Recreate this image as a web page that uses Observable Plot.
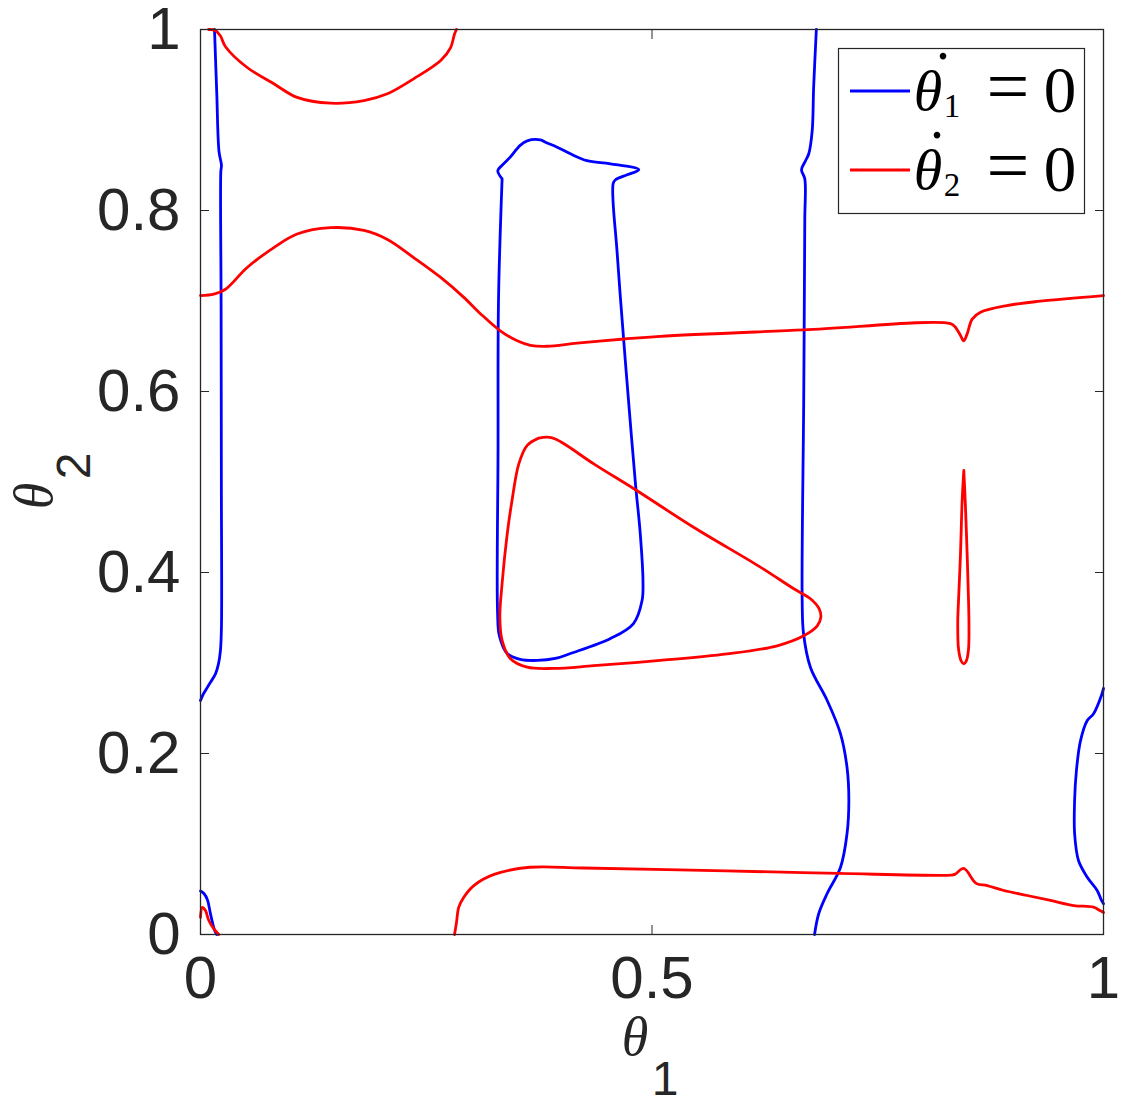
<!DOCTYPE html>
<html><head><meta charset="utf-8">
<script src="https://cdn.jsdelivr.net/npm/d3@7"></script>
<script src="https://cdn.jsdelivr.net/npm/@observablehq/plot@0.6"></script>
<style>body{margin:0;background:#fff}</style>
</head><body><div id="chart"></div>
<script>
const xTicks = [0, 0.5, 1];
const yTicks = [0, 0.2, 0.4, 0.6, 0.8, 1];
const seriesNames = ["θ̇1 = 0", "θ̇2 = 0"];
const seriesColors = ["#0000ff", "#ff0000"];

// theta1-dot = 0 (blue) curves
const blueLeft = [[0.0155,1.0],[0.018,0.93],[0.0205,0.865],[0.0232,0.850],[0.0225,0.843],[0.0228,0.70],[0.0231,0.50],[0.0232,0.34],[0.0221,0.314],[0.0199,0.299],[0.0166,0.288],[0.010,0.277],[0.0033,0.266],[0,0.2586]];
const blueCorner = [[0,0.048],[0.004,0.045],[0.0078,0.038],[0.011,0.023],[0.0155,0.005],[0.018,0]];
const blueLoop = [[0.334,0.835],[0.330,0.700],[0.3295,0.535],[0.329,0.355],[0.331,0.330],[0.3397,0.3105],[0.354,0.304],[0.373,0.3028],[0.393,0.305],[0.4097,0.3105],[0.454,0.327],[0.4795,0.3436],[0.489,0.369],[0.490,0.391],[0.487,0.443],[0.4817,0.498],[0.474,0.590],[0.4684,0.660],[0.4615,0.752],[0.457,0.830],[0.4596,0.834],[0.4725,0.8395],[0.4854,0.845],[0.454,0.8516],[0.428,0.855],[0.4097,0.8626],[0.395,0.870],[0.382,0.8755],[0.3765,0.878],[0.3618,0.877],[0.354,0.872],[0.343,0.859],[0.334,0.850],[0.3292,0.844],[0.334,0.835]];
const blueMid = [[0.682,1.0],[0.679,0.936],[0.6774,0.888],[0.6736,0.8627],[0.670,0.855],[0.6656,0.845],[0.6692,0.835],[0.6692,0.789],[0.668,0.590],[0.6663,0.369],[0.6678,0.3326],[0.6755,0.295],[0.694,0.2586],[0.7087,0.222],[0.716,0.1845],[0.718,0.148],[0.716,0.1116],[0.7087,0.074],[0.694,0.0453],[0.6847,0.0232],[0.680,0]];
const blueEdge = [[1.0,0.272],[0.998,0.265],[0.989,0.244],[0.982,0.2365],[0.9745,0.214],[0.970,0.181],[0.968,0.148],[0.968,0.1116],[0.9723,0.0818],[0.982,0.0633],[0.993,0.0486],[0.9978,0.0376],[1.0,0.034]];

// theta2-dot = 0 (red) curves
const redTop = [[0.009,1.0],[0.0166,0.999],[0.022,0.993],[0.0277,0.981],[0.0517,0.958],[0.0812,0.940],[0.107,0.925],[0.144,0.9186],[0.181,0.9215],[0.207,0.929],[0.236,0.9455],[0.266,0.9657],[0.277,0.980],[0.2813,0.995],[0.2835,1.0]];
const redUpper = [[0,0.706],[0.0148,0.7075],[0.0277,0.713],[0.0517,0.737],[0.0812,0.759],[0.107,0.774],[0.144,0.781],[0.181,0.778],[0.207,0.768],[0.236,0.748],[0.266,0.726],[0.2916,0.704],[0.310,0.686],[0.332,0.667],[0.3507,0.656],[0.3654,0.651],[0.384,0.650],[0.417,0.6534],[0.469,0.658],[0.509,0.661],[0.668,0.668],[0.8306,0.675],[0.836,0.671],[0.8416,0.662],[0.8453,0.656],[0.849,0.6637],[0.8546,0.680],[0.8638,0.6876],[0.893,0.695],[0.930,0.6998],[1.0,0.706]];
const redTriangle = [[0.3745,0.5485],[0.3618,0.5405],[0.3525,0.520],[0.345,0.4796],[0.3397,0.443],[0.334,0.388],[0.3315,0.3506],[0.334,0.325],[0.343,0.305],[0.3618,0.2954],[0.391,0.294],[0.4355,0.297],[0.509,0.3028],[0.583,0.310],[0.6387,0.319],[0.668,0.330],[0.683,0.341],[0.687,0.3506],[0.685,0.360],[0.6755,0.371],[0.657,0.382],[0.620,0.406],[0.546,0.450],[0.480,0.4925],[0.4355,0.520],[0.406,0.540],[0.393,0.5475],[0.384,0.5495],[0.3745,0.5485]];
const redThin = [[0.8453,0.5127],[0.8435,0.48],[0.8416,0.42],[0.8395,0.37],[0.8386,0.345],[0.8395,0.315],[0.8425,0.302],[0.8453,0.299],[0.848,0.302],[0.8505,0.315],[0.851,0.345],[0.8505,0.37],[0.849,0.42],[0.847,0.476],[0.8453,0.5127]];
const redLower = [[0.2813,0],[0.2835,0.0133],[0.286,0.0302],[0.2916,0.0412],[0.3027,0.0541],[0.3251,0.0664],[0.3647,0.0743],[0.424,0.0735],[0.582,0.0703],[0.7068,0.0675],[0.8313,0.0656],[0.8353,0.0664],[0.8452,0.073],[0.859,0.0565],[0.8712,0.0541],[0.8896,0.0486],[0.9155,0.0431],[0.9413,0.0376],[0.967,0.032],[0.989,0.0302],[0.996,0.0265],[1.0,0.0243]];
const redCorner = [[0,0.019],[0.002,0.030],[0.0055,0.0265],[0.0092,0.0155],[0.0148,0.0063],[0.0203,0]];

const curves = [
  {id: "blueLeft", s: 0, pts: blueLeft},
  {id: "blueCorner", s: 0, pts: blueCorner},
  {id: "blueLoop", s: 0, pts: blueLoop},
  {id: "blueMid", s: 0, pts: blueMid},
  {id: "blueEdge", s: 0, pts: blueEdge},
  {id: "redTop", s: 1, pts: redTop},
  {id: "redUpper", s: 1, pts: redUpper},
  {id: "redTriangle", s: 1, pts: redTriangle},
  {id: "redThin", s: 1, pts: redThin},
  {id: "redLower", s: 1, pts: redLower},
  {id: "redCorner", s: 1, pts: redCorner}
];
const table = curves.flatMap(c => c.pts.map(([x, y]) => ({x, y, id: c.id, series: seriesNames[c.s]})));

const axisColor = "#262626";
const fmt = d => String(d);

const plot = Plot.plot({
  width: 1123, height: 1102,
  marginLeft: 200, marginRight: 20, marginTop: 29, marginBottom: 168,
  x: {domain: [0, 1]},
  y: {domain: [0, 1]},
  color: {domain: seriesNames, range: seriesColors},
  style: {fontFamily: "'Liberation Sans', Arial, Helvetica, sans-serif", background: "#fff", overflow: "visible"},
  marks: [
    Plot.line(table, {x: "x", y: "y", z: "id", stroke: "series", strokeWidth: 2.8, curve: "catmull-rom"}),
    Plot.frame({stroke: axisColor, strokeWidth: 1.3}),
    Plot.axisX(xTicks, {anchor: "bottom", tickSize: -9, tickPadding: 30, fontSize: 60, color: axisColor, label: null, tickFormat: fmt}),
    Plot.axisX(xTicks, {anchor: "top", tickSize: -9, color: axisColor, label: null, tickFormat: () => ""}),
    Plot.axisY(yTicks, {anchor: "left", tickSize: -9, tickPadding: 29, fontSize: 60, color: axisColor, label: null, tickFormat: fmt}),
    Plot.axisY(yTicks, {anchor: "right", tickSize: -9, color: axisColor, label: null, tickFormat: () => ""})
  ]
});
document.getElementById("chart").appendChild(plot);

const svg = d3.select(plot);
// axis labels
const serif = "'Liberation Serif', 'Times New Roman', serif";
const sans = "'Liberation Sans', Arial, sans-serif";
const xl = svg.append("g").attr("fill", axisColor);
xl.append("text").attr("x", 635).attr("y", 1055).attr("text-anchor", "middle")
  .attr("font-family", serif).attr("font-style", "italic").attr("font-size", 54).text("θ");
xl.append("text").attr("x", 665).attr("y", 1095).attr("text-anchor", "middle")
  .attr("font-family", sans).attr("font-size", 48).text("1");
const yl = svg.append("g").attr("fill", axisColor).attr("transform", "rotate(-90)");
yl.append("text").attr("x", -496).attr("y", 52).attr("text-anchor", "middle")
  .attr("font-family", serif).attr("font-style", "italic").attr("font-size", 54).text("θ");
yl.append("text").attr("x", -466).attr("y", 90).attr("text-anchor", "middle")
  .attr("font-family", sans).attr("font-size", 48).text("2");

// legend
const lg = svg.append("g");
lg.append("rect").attr("x", 838.5).attr("y", 48.5).attr("width", 246).attr("height", 165)
  .attr("fill", "#fff").attr("stroke", axisColor).attr("stroke-width", 1.2);
const rows = [{y: 91, sub: "1", dotx: 943}, {y: 170, sub: "2", dotx: 937}];
rows.forEach((r, i) => {
  lg.append("line").attr("x1", 850).attr("x2", 910).attr("y1", r.y).attr("y2", r.y)
    .attr("stroke", seriesColors[i]).attr("stroke-width", 2.8);
  lg.append("text").attr("x", 928).attr("y", r.y + 19).attr("text-anchor", "middle").attr("font-family", serif)
    .attr("font-style", "italic").attr("font-size", 58).attr("fill", "#000").text("θ");
  lg.append("text").attr("x", r.dotx).attr("y", r.y - 32).attr("text-anchor", "middle").attr("font-family", serif)
    .attr("font-size", 56).attr("fill", "#000").text(".");
  lg.append("text").attr("x", 952).attr("y", r.y + 26).attr("text-anchor", "middle").attr("font-family", serif)
    .attr("font-size", 33).attr("fill", "#000").text(r.sub);
  lg.append("text").attr("x", 1008).attr("y", r.y + 21).attr("text-anchor", "middle").attr("font-family", serif)
    .attr("font-size", 76).attr("fill", "#000").text("=");
  lg.append("text").attr("x", 1060).attr("y", r.y + 21).attr("text-anchor", "middle").attr("font-family", serif)
    .attr("font-size", 65).attr("fill", "#000").text("0");
});
</script></body></html>
